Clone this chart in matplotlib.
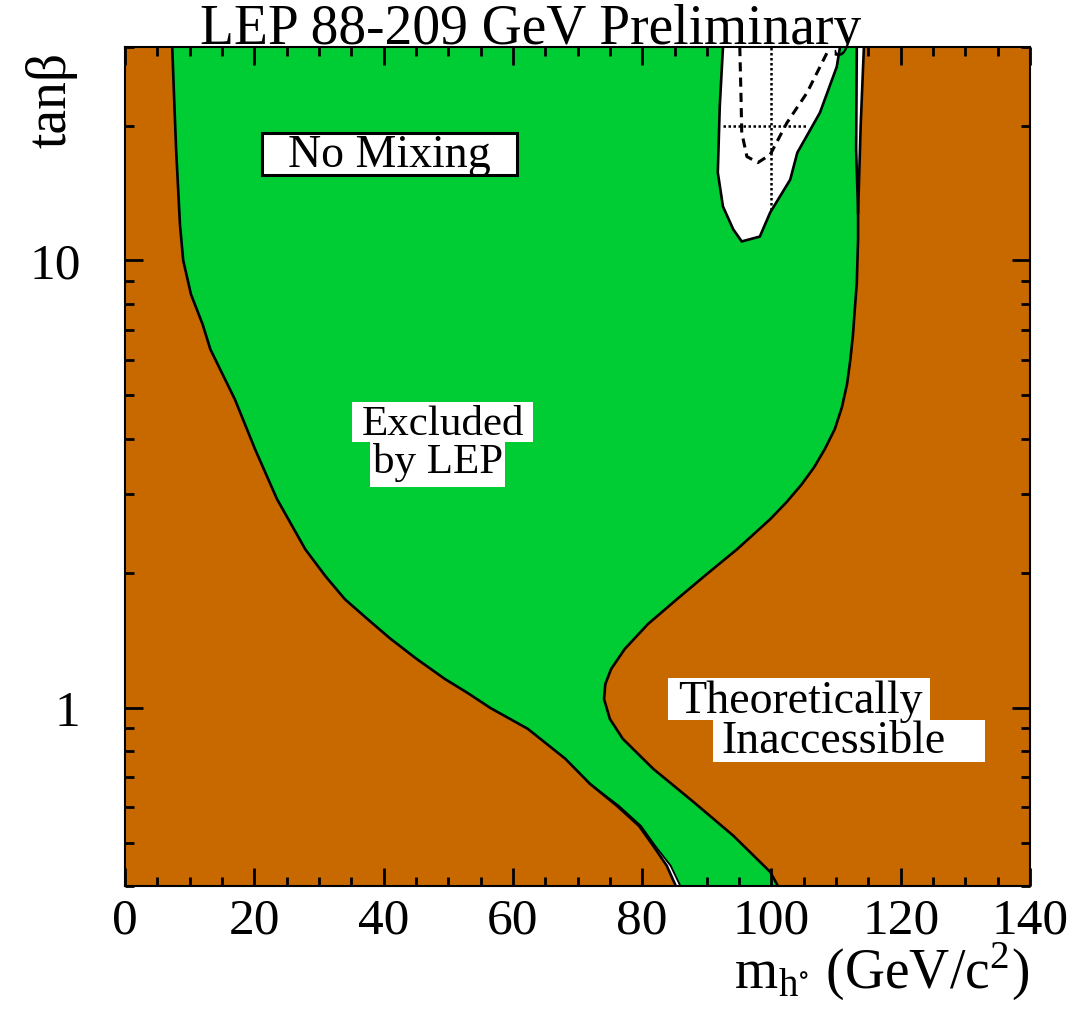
import matplotlib
matplotlib.use("Agg")
import matplotlib.pyplot as plt
from matplotlib.patches import Rectangle
from matplotlib.ticker import FixedLocator, MultipleLocator, NullFormatter

plt.rcParams["font.family"] = ["Liberation Serif", "DejaVu Serif"]
plt.rcParams["mathtext.fontset"] = "stix"

BROWN = "#c86900"
GREEN = "#00cc33"

# left edge of the excluded region (theory limit), top -> bottom
left_m = [7.3, 7.6, 7.9, 8.5, 9.0, 10.2, 12.0, 13.2, 15.0, 17.0, 20.1, 23.5,
          27.9, 31.0, 34.0, 37.5, 41.0, 45.0, 49.5, 53.0, 56.5, 62.3, 68.1,
          71.9, 76.1, 79.5, 81.7, 83.8, 85.2]
left_tb = [30.0, 22.9, 17.7, 12.0, 10.0, 8.4, 7.2, 6.33, 5.6, 4.89, 3.79, 2.93,
           2.26, 1.97, 1.75, 1.58, 1.43, 1.29, 1.16, 1.08, 1.0, 0.898, 0.770,
           0.677, 0.604, 0.545, 0.492, 0.444, 0.40]

# right edge of the excluded region, bottom -> top
right_m = [101.0, 99.8, 94.1, 87.9, 81.7, 77.0, 75.0, 74.1, 74.3, 75.2, 77.3,
           80.9, 85.4, 90.0, 94.7, 99.8, 102.3, 104.6, 106.6, 108.3, 109.8,
           110.9, 111.7, 112.2, 112.6, 112.9, 113.2, 113.3, 113.4, 113.4,
           113.1, 113.2]
right_tb = [0.40, 0.430, 0.518, 0.617, 0.731, 0.853, 0.945, 1.047, 1.131, 1.222,
            1.354, 1.540, 1.751, 1.991, 2.264, 2.641, 2.88, 3.15, 3.45, 3.80,
            4.20, 4.70, 5.30, 6.00, 6.80, 7.80, 8.90, 10.0, 11.14, 12.8, 17.7,
            30.0]

# outer edge of the narrow allowed strip near the theory limit
strip_m = [113.4, 113.8, 114.3]
strip_tb = [12.8, 20.0, 30.0]

# allowed (not excluded) island at large tan(beta)
island_m = [92.5, 92.0, 91.7, 92.5, 94.1, 95.4, 98.2, 99.8, 102.9, 104.0,
            107.5, 110.1, 110.6]
island_tb = [30.0, 22.07, 15.72, 13.2, 11.73, 11.03, 11.31, 12.8, 15.16, 17.42,
             21.4, 27.1, 30.0]

# expected limit contour
exp_m = [95.1, 95.3, 95.4, 96.2, 97.9, 99.8, 102.4, 105.5, 108.6, 108.9]
exp_tb = [30.0, 22.9, 19.31, 17.07, 16.55, 17.24, 20.32, 23.71, 29.13, 30.0]

# small allowed sliver along the low-tan(beta) edge
sliver_m = [71.9, 76.4, 79.8, 82.0, 84.4, 85.9]
sliver_tb = [0.677, 0.604, 0.545, 0.492, 0.444, 0.40]

# crosshair of the best-fit point
cross_m = 100.0
cross_tb = 20.0
cross_m_span = [92.5, 105.5]
cross_tb_span = [13.0, 30.0]

xticks_major = [0, 20, 40, 60, 80, 100, 120, 140]

fig = plt.figure(figsize=(10.78, 10.13), dpi=100)
ax = fig.add_axes([0.116, 0.1254, 0.8395, 0.8282])
ax.set_facecolor(BROWN)
ax.set_yscale("log")
ax.set_xlim(0, 140)
ax.set_ylim(0.4, 30)

lw = 1.9
# excluded region
ax.fill(left_m + right_m, left_tb + right_tb, color=GREEN, lw=0, zorder=1)
ax.plot(left_m, left_tb, color="black", lw=lw, zorder=3)
ax.plot(right_m, right_tb, color="black", lw=lw, zorder=3)

# strip between the exclusion edge and the theory limit
ax.fill(right_m[-3:] + strip_m[::-1], right_tb[-3:] + strip_tb[::-1],
        color="white", lw=0, zorder=2)
ax.plot(strip_m, strip_tb, color="black", lw=lw, zorder=3)

# low tan(beta) sliver
ax.fill(sliver_m + left_m[-6:][::-1], sliver_tb + left_tb[-6:][::-1],
        color="white", lw=0, zorder=2)
ax.plot(sliver_m, sliver_tb, color="black", lw=1.3, zorder=3)

# allowed island, expected contour, crosshair
ax.fill(island_m, island_tb, color="white", lw=0, zorder=2)
ax.plot(island_m, island_tb, color="black", lw=lw, zorder=3)
ax.plot(exp_m, exp_tb, color="black", lw=2.2, ls=(0, (3, 2)), zorder=3)
ax.plot([cross_m, cross_m], cross_tb_span, color="black", lw=1.8,
        ls=(0, (1, 1)), zorder=3)
ax.plot(cross_m_span, [cross_tb, cross_tb], color="black", lw=1.8,
        ls=(0, (1, 1)), zorder=3)

# ticks
ax.xaxis.set_major_locator(FixedLocator(xticks_major))
ax.xaxis.set_minor_locator(MultipleLocator(5))
ax.yaxis.set_major_locator(FixedLocator([1, 10]))
ax.yaxis.set_minor_locator(FixedLocator([0.4, 0.5, 0.6, 0.7, 0.8, 0.9,
                                         2, 3, 4, 5, 6, 7, 8, 9, 20, 30]))
ax.yaxis.set_minor_formatter(NullFormatter())
ax.set_yticklabels(["1", "10"])
ax.tick_params(which="both", direction="in", top=True, right=True, width=2,
               labelsize=37, colors="black")
ax.tick_params(which="major", length=13)
ax.tick_params(which="minor", length=6.5)
ax.tick_params(axis="x", pad=9)
ax.tick_params(axis="y", pad=32)

for sp in ax.spines.values():
    sp.set_linestyle((0, (1.5, 1)))
    sp.set_linewidth(1.5)
    sp.set_zorder(4)

ax.set_xlabel(r"m$_{\mathregular{h}^{\circ}}$ (GeV/c$^{\mathregular{2}}$)",
              fontsize=40, loc="right")
ax.xaxis.set_label_coords(1.0, -0.066)
ax.set_ylabel("tanβ", fontsize=40, loc="top")
ax.yaxis.set_label_coords(-0.052, 0.994)

ax.text(0.448, 1.004, "LEP 88-209 GeV Preliminary", transform=ax.transAxes,
        fontsize=40, ha="center", va="baseline", zorder=6, clip_on=False)

# labels with white backgrounds
ax.add_patch(Rectangle((0.1514, 0.8474), 0.2817, 0.0501, transform=ax.transAxes,
                       facecolor="white", edgecolor="black", lw=2.2, zorder=5))
ax.text(0.2917, 0.857, "No Mixing", transform=ax.transAxes, fontsize=33,
        ha="center", va="baseline", zorder=6)

ax.add_patch(Rectangle((0.2508, 0.5292), 0.2, 0.0477, transform=ax.transAxes,
                       facecolor="white", lw=0, zorder=5))
ax.add_patch(Rectangle((0.2707, 0.4756), 0.1492, 0.0536, transform=ax.transAxes,
                       facecolor="white", lw=0, zorder=5))
ax.text(0.3514, 0.5375, "Excluded", transform=ax.transAxes, fontsize=31,
        ha="center", va="baseline", zorder=6)
ax.text(0.3459, 0.4922, "by LEP", transform=ax.transAxes, fontsize=31,
        ha="center", va="baseline", zorder=6)

ax.add_patch(Rectangle((0.6, 0.1979), 0.2895, 0.05, transform=ax.transAxes,
                       facecolor="white", lw=0, zorder=5))
ax.add_patch(Rectangle((0.6497, 0.1478), 0.3006, 0.0501, transform=ax.transAxes,
                       facecolor="white", lw=0, zorder=5))
ax.text(0.7459, 0.2062, "Theoretically", transform=ax.transAxes, fontsize=33,
        ha="center", va="baseline", zorder=6)
ax.text(0.7823, 0.1585, "Inaccessible", transform=ax.transAxes, fontsize=33,
        ha="center", va="baseline", zorder=6)

fig.savefig("out.png", dpi=100)
